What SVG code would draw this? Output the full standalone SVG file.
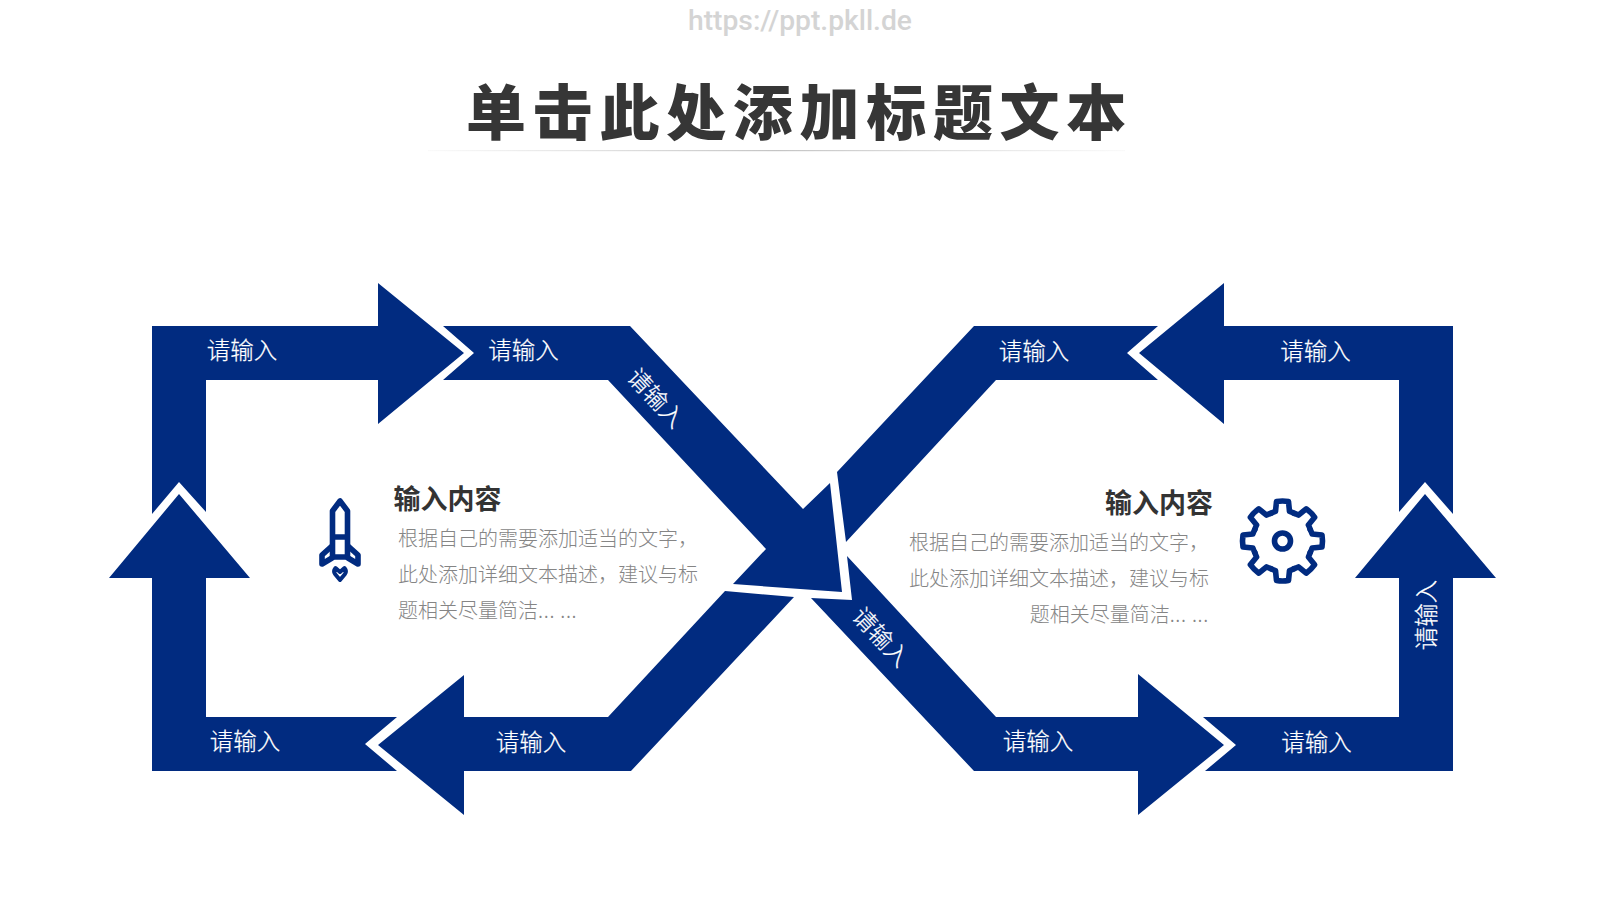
<svg xmlns="http://www.w3.org/2000/svg" width="1600" height="900" viewBox="0 0 1600 900">
<style>
text{font-family:"Noto Sans CJK SC","Liberation Sans",sans-serif}
.band{fill:#012b80}
.lb{font-size:23.5px;fill:#fff;stroke:#fff;stroke-width:.25px;text-anchor:middle;font-weight:300;dominant-baseline:central}
.h{font-size:27px;font-weight:700;fill:#333}
.b{font-size:20px;font-weight:300;fill:#858585}
.e{letter-spacing:.7px}
.ic{fill:none;stroke:#012b80;stroke-width:5.6;stroke-linejoin:round;stroke-linecap:round}
</style>
<defs>
<linearGradient id="ln" x1="0" x2="1" y1="0" y2="0"><stop offset="0" stop-color="#ccc" stop-opacity="0.1"/><stop offset="0.5" stop-color="#c4c4c4"/><stop offset="1" stop-color="#ccc" stop-opacity="0.1"/></linearGradient>
<path id="tooth" d="M-11.5 -27.7Q-9 -29 -7 -29.6L-6 -39.5Q0 -40.5 6 -39.5L7 -29.6Q9 -29 11.5 -27.7"/>
</defs>
<rect width="1600" height="900" fill="#fff"/>
<g id="header">
<text x="688" y="30" textLength="224" lengthAdjust="spacingAndGlyphs" style="font-family:'Roboto',sans-serif" font-size="27" font-weight="500" fill="#d4d4d4">https://ppt.pkll.de</text>
<text x="799.500" y="135" text-anchor="middle" font-size="60" font-weight="900" letter-spacing="6.7" fill="#363636">单击此处添加标题文本</text>
<rect x="428" y="150" width="697" height="1.2" fill="url(#ln)"/>
</g>
<g id="connectors">
<g id="seg-top-left"><polygon class="band" points="152,326 378,326 378,283 464,353 378,424 378,380 206,380 206,512 179,482 152,514"/><text class="lb" x="242" y="349">请输入</text></g>
<g id="seg-center"><polygon class="band" points="443,326 474,353 443,380 608,380 766,549 733,584 842,592 830,483 803,509 630,326"/><text class="lb" x="523.500" y="349">请输入</text><text class="lb" transform="translate(657,397) rotate(47)">请输入</text></g>
<g id="seg-lower-left"><polygon class="band" points="725,591 794,597 631,771 464,771 464,815 378,745 464,675 464,717 608,717"/><text class="lb" x="531" y="741">请输入</text></g>
<g id="seg-bottom-left"><polygon class="band" points="179,494 250,578 206,578 206,717 397,717 365,744 397,771 152,771 152,578 109,578"/><text class="lb" x="245" y="740">请输入</text></g>
<g id="seg-upper-right"><polygon class="band" points="1158,326 1127,353 1158,380 996,380 846,542 837,472 974,326"/><text class="lb" x="1034" y="350">请输入</text></g>
<g id="seg-top-right"><polygon class="band" points="1139,353 1224,283 1224,326 1453,326 1453,514 1425,482 1399,512 1399,380 1224,380 1224,424"/><text class="lb" x="1315.500" y="350">请输入</text></g>
<g id="seg-lower-right"><polygon class="band" points="811,598 852,600 847,556 996,717 1138,717 1138,674 1224,745 1138,815 1138,771 974,771"/><text class="lb" transform="translate(882,636) rotate(47)">请输入</text><text class="lb" x="1038" y="740">请输入</text></g>
<g id="seg-bottom-right"><polygon class="band" points="1425,494 1496,578 1453,578 1453,771 1205,771 1236,745 1203,717 1399,717 1399,578 1355,578"/><text class="lb" x="1316.500" y="741">请输入</text><text class="lb" transform="translate(1425,615) rotate(-90)">请输入</text></g>
</g>
<g id="node-left">
<g id="rocket" class="ic">
<path d="M340 501L332.500 511V557H347.500V511ZM332.500 537H347.500"/>
<path d="M332 546L322 555V564L332 558M348 546L358 555V564L348 558"/>
<path d="M340 580L335 574Q333 571 335.500 568L340 572L344.500 568Q347 571 345 574Z" stroke-width="4"/>
</g>
<text class="h" x="393.500" y="508.500">输入内容</text>
<text class="b" x="398" y="546">根据自己的需要添加适当的文字，</text>
<text class="b" x="398" y="582">此处添加详细文本描述，建议与标</text>
<text class="b" x="398" y="618">题相关尽量简洁<tspan class="e">... ...</tspan></text>
</g>
<g id="node-right">
<g id="gear" class="ic" transform="translate(1282.500,541)">
<use href="#tooth"/><use href="#tooth" transform="rotate(45)"/><use href="#tooth" transform="rotate(90)"/><use href="#tooth" transform="rotate(135)"/><use href="#tooth" transform="rotate(180)"/><use href="#tooth" transform="rotate(225)"/><use href="#tooth" transform="rotate(270)"/><use href="#tooth" transform="rotate(315)"/>
<circle r="8"/>
</g>
<text class="h" x="1213" y="513" text-anchor="end">输入内容</text>
<text class="b" x="1209" y="550" text-anchor="end">根据自己的需要添加适当的文字，</text>
<text class="b" x="1209" y="586" text-anchor="end">此处添加详细文本描述，建议与标</text>
<text class="b" x="1209" y="622" text-anchor="end">题相关尽量简洁<tspan class="e">... ...</tspan></text>
</g>
</svg>
